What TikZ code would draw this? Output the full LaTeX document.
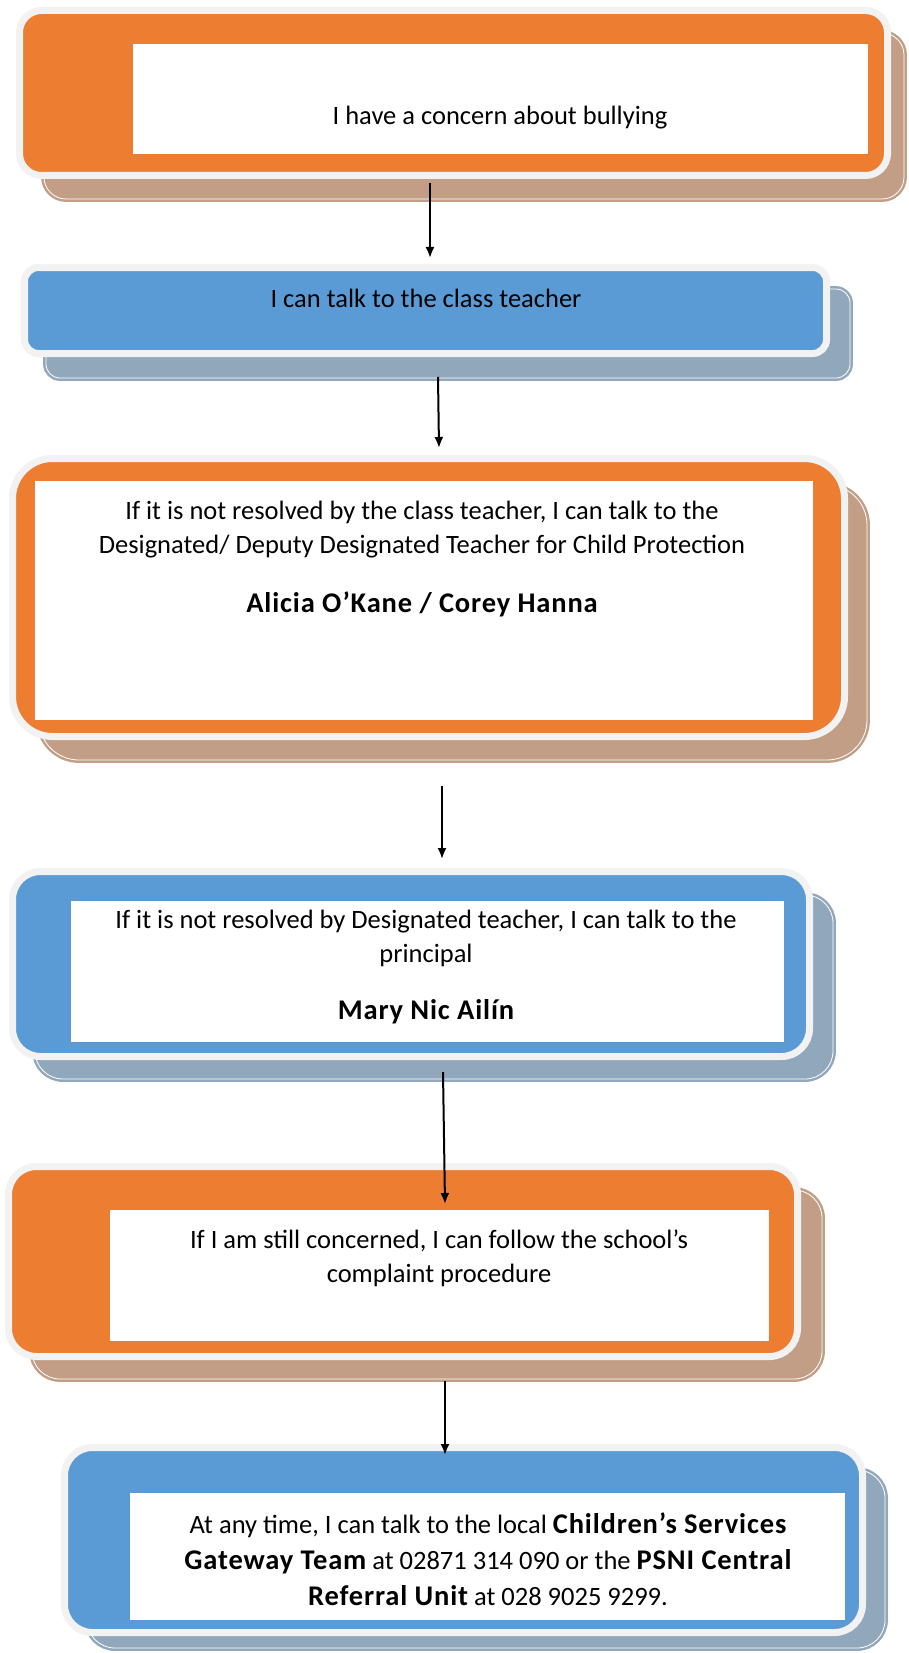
\documentclass[tikz,border=0pt]{standalone}
\usepackage{fontspec}
\setmainfont{Carlito}
\usepackage{xcolor}
\usepackage{tikz}
\usetikzlibrary{arrows.meta, calc}
\definecolor{boxorange}{HTML}{ED7D31}
\definecolor{boxblue}{HTML}{5B9BD5}
\definecolor{rimgray}{HTML}{F2F2F2}
\definecolor{shadebrown}{HTML}{C19E85}
\definecolor{shadeblue}{HTML}{91A7BC}
\newcommand{\bname}[1]{{\fontsize{28.5pt}{34pt}\selectfont\bfseries\addfontfeatures{LetterSpace=3}#1}}
\tikzset{
  orangebox/.style={rectangle, fill=boxorange, draw=rimgray, line width=7pt, inner sep=0pt, outer sep=0pt},
  bluebox/.style={orangebox, fill=boxblue},
  brownshade/.style={rectangle, fill=shadebrown, draw=shadebrown, double=white, double distance=0.8pt, line width=2.5pt, inner sep=0pt, outer sep=0pt},
  blueshade/.style={brownshade, fill=shadeblue, draw=shadeblue},
  panel/.style={rectangle, fill=white, draw=none, inner sep=0pt, outer sep=0pt},
  txt/.style={font=\fontsize{26.5pt}{34pt}\selectfont, align=center, inner sep=0pt, anchor=base},
  flow/.style={line width=2pt, -{Latex[length=11pt, width=9pt]}}
}

\begin{document}
\begin{tikzpicture}[x=1pt, y=-1pt]
        \fill[white] (0, 0) rectangle (909, 1653);
        \useasboundingbox (0, 0) rectangle (909, 1653);

        % concern
        \node[brownshade, minimum width=860pt, minimum height=166pt, rounded corners=22pt] (s1) at (474, 116) {};
        \node[orangebox, minimum width=868pt, minimum height=165pt, rounded corners=22pt] (b1) at (453.5, 93) {};
        \node[panel, minimum width=735pt, minimum height=110pt] (p1) at (500.5, 99) {};
        \node[txt] (t1) at (500, 125) {I have a concern about bullying};

        % class teacher
        \node[blueshade, minimum width=804pt, minimum height=89pt, rounded corners=14pt] (s2) at (448, 333.5) {};
        \node[bluebox, minimum width=802pt, minimum height=86pt, rounded corners=14pt] (b2) at (425.5, 310.5) {};
        \node[txt] (t2) at (426, 307) {I can talk to the class teacher};

        % designated teacher
        \node[brownshade, minimum width=828pt, minimum height=275pt, rounded corners=40pt] (s3) at (453, 622.5) {};
        \node[orangebox, minimum width=832pt, minimum height=278pt, rounded corners=40pt] (b3) at (428.5, 597.5) {};
        \node[panel, minimum width=778pt, minimum height=239pt] (p3) at (424, 600.5) {};
        \node[txt] (t3) at (422, 612) {If it is not resolved by the class teacher, I can talk to the\\
          Designated/ Deputy Designated Teacher for Child Protection\\[25pt]
          \bname{Alicia O’Kane / Corey Hanna}};

        % principal
        \node[blueshade, minimum width=798pt, minimum height=184pt, rounded corners=28pt] (s4) at (434, 987) {};
        \node[bluebox, minimum width=797pt, minimum height=185pt, rounded corners=28pt] (b4) at (411, 964) {};
        \node[panel, minimum width=713pt, minimum height=141pt] (p4) at (427.5, 971.5) {};
        \node[txt] (t4) at (426, 1019) {If it is not resolved by Designated teacher, I can talk to the\\
          principal\\[23pt]
          \bname{Mary Nic Ailín}};

        % complaint
        \node[brownshade, minimum width=790pt, minimum height=189pt, rounded corners=28pt] (s5) at (427, 1284.5) {};
        \node[orangebox, minimum width=789pt, minimum height=190pt, rounded corners=28pt] (b5) at (403, 1261.5) {};
        \node[panel, minimum width=659pt, minimum height=131pt] (p5) at (439.5, 1275.5) {};
        \node[txt] (t5) at (439, 1282) {If I am still concerned, I can follow the school’s\\
          complaint procedure};

        % gateway / psni
        \node[blueshade, minimum width=798pt, minimum height=178pt, rounded corners=28pt] (s6) at (486, 1559) {};
        \node[bluebox, minimum width=798pt, minimum height=185pt, rounded corners=28pt] (b6) at (463.5, 1540) {};
        \node[panel, minimum width=715pt, minimum height=127pt] (p6) at (487.5, 1556.5) {};
        \node[txt] (t6) at (488, 1605) {At any time, I can talk to the local \bname{Children’s Services}\\[2pt]
          \bname{Gateway Team} at 02871 314 090 or the \bname{PSNI Central}\\[2pt]
          \bname{Referral Unit} at 028 9025 9299.};

        \foreach \from/\fs/\to/\ts in {
          b1/{-23.5, 7.5}/b2/{4.5, -9.5},
          b2/{12.5, 23.5}/b3/{10.5, -10.5},
          b3/{13.5, 49.5}/b4/{31, -12.5},
          b4/{32, 15.5}/b5/{42, 37.5},
          b5/{42, 24.5}/b6/{-18.5, 7.5}}
        \draw[flow] ($(\from.south)+(\fs)$) -- ($(\to.north)+(\ts)$);
      \end{tikzpicture}
\end{document}
